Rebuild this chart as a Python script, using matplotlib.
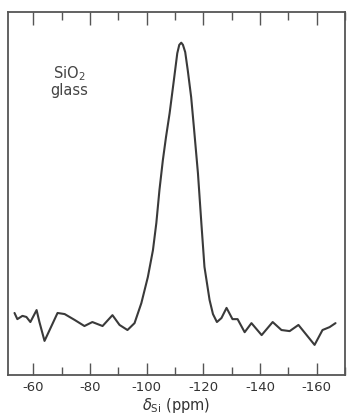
import matplotlib
matplotlib.use("Agg")
import matplotlib.pyplot as plt
from matplotlib.ticker import MultipleLocator

# Chemical shift (ppm) and relative intensity
shift_ppm = [-53.3, -54.3, -56.1, -57.5, -58.9, -61.1, -62.1, -63.9, -65.7, -68.5,
             -71.0, -74.5, -78.0, -80.8, -84.4, -87.9, -90.4, -93.2, -95.7, -98.1,
             -100.4, -102.2, -103.4, -104.5, -105.7, -106.8, -108.1, -109.6, -110.8,
             -111.5, -112.2, -112.8, -113.6, -114.5, -115.7, -116.7, -118.1, -119.3,
             -120.4, -122.2, -123.4, -124.8, -126.4, -128.2, -130.3, -132.1, -134.6,
             -137.0, -140.6, -144.5, -147.6, -150.5, -153.6, -156.5, -159.3, -162.1,
             -164.6, -166.7]
intensity = [17.1, 15.4, 16.3, 16.0, 14.6, 17.9, 14.6, 9.4, 12.4, 17.1,
             16.8, 15.2, 13.5, 14.6, 13.5, 16.5, 13.8, 12.4, 14.3, 19.8,
             27.0, 34.4, 41.9, 51.0, 59.2, 65.5, 72.2, 81.3, 88.7,
             91.0, 91.6, 91.0, 89.0, 84.0, 76.6, 68.0, 55.6, 41.9,
             29.8, 20.7, 16.8, 14.6, 15.7, 18.5, 15.4, 15.4, 11.8,
             14.3, 11.0, 14.6, 12.4, 12.1, 13.8, 11.0, 8.3, 12.4,
             13.2, 14.3]

major_ticks = [-60, -80, -100, -120, -140, -160]
tick_labels = ["-60", "-80", "-100", "-120", "-140", "-160"]

fig = plt.figure(figsize=(3.48, 4.17), dpi=100)
ax = fig.add_axes([0.023, 0.1007, 0.968, 0.870])

ax.plot(shift_ppm, intensity, color="#3a3a3a", lw=1.5,
        solid_joinstyle="round", solid_capstyle="round")

ax.set_xlim(-51, -170)
ax.set_ylim(0, 100)

ax.set_xticks(major_ticks)
ax.set_xticklabels(tick_labels, fontsize=9.5, color="#333333")
ax.xaxis.set_minor_locator(MultipleLocator(10))
ax.tick_params(axis="x", which="major", direction="in", length=9, width=1.0,
               top=True, bottom=True, color="#555555", pad=4)
ax.tick_params(axis="x", which="minor", direction="in", length=6, width=1.0,
               top=True, bottom=True, color="#555555")
ax.set_yticks([])

for s in ax.spines.values():
    s.set_color("#555555")
    s.set_linewidth(1.3)

ax.text(-72.5, 81, "SiO$_2$\nglass", fontsize=10.5, color="#444444",
        ha="center", va="center", linespacing=1.0)

ax.set_xlabel(r"$\delta_{\rm Si}$ (ppm)", fontsize=10.5, color="#333333", labelpad=2)

fig.savefig("out.png", dpi=100)
